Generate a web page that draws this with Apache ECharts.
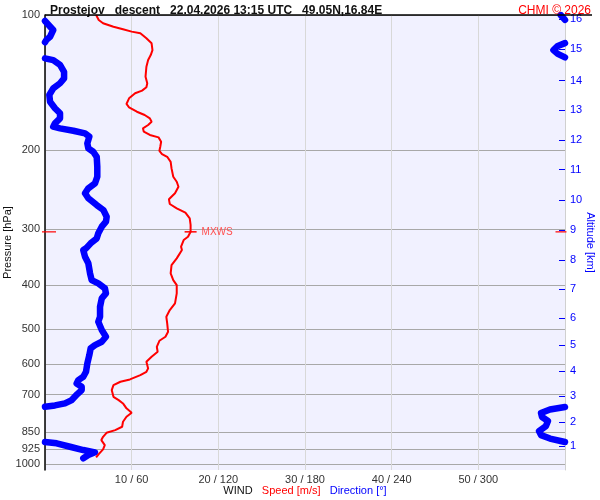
<!DOCTYPE html>
<html>
<head>
<meta charset="utf-8">
<script src="https://cdn.jsdelivr.net/npm/echarts@6/dist/echarts.min.js"></script>
<style>
  html, body { margin: 0; padding: 0; background: #ffffff; }
  #main { width: 600px; height: 500px; }
</style>
</head>
<body>
<div id="main"></div>
<script>
// wind speed profile (pressure hPa / speed m/s)
const speedPres = [100, 102.6, 104.3, 106.2, 107.6, 108.9, 109.8, 112.7, 115.6, 119.7, 122.8, 126.0, 130.4, 137.2, 141.9, 144.9, 147.4, 149.4, 153.3, 157.8, 160.5, 164.2, 167.0, 169.9, 172.9, 175.8, 178.8, 181.9, 185.0, 187.3, 191.5, 196.5, 200.6, 204.0, 206.9, 212.3, 219.6, 229.2, 235.1, 241.2, 249.5, 257.3, 263.6, 269.5, 275.6, 283.6, 293.5, 303.8, 311.8, 317.1, 328.1, 333.8, 348.3, 360.5, 376.2, 389.3, 399.4, 416.8, 438.7, 454.0, 469.9, 486.1, 507.5, 520.7, 531.5, 548.1, 562.3, 576.8, 591.9, 612.3, 623.0, 633.7, 647.9, 655.8, 667.1, 684.4, 708.3, 720.4, 732.8, 751.6, 768.6, 784.6, 805.0, 826.0, 840.2, 851.9, 869.6, 884.4, 907.4, 927.6, 950.2, 966.5];
const speedVals = [5.9, 6.2, 6.7, 7.9, 9.0, 10.0, 11.0, 11.7, 12.3, 12.4, 12.2, 11.9, 11.7, 11.6, 11.8, 11.7, 11.2, 10.4, 9.7, 9.4, 9.7, 10.6, 11.5, 12.1, 12.3, 11.9, 11.3, 11.4, 12.1, 13.1, 13.4, 13.3, 13.2, 13.5, 14.1, 14.5, 14.6, 14.8, 15.2, 15.4, 15.0, 14.3, 14.4, 15.2, 16.2, 16.7, 16.8, 16.8, 16.5, 16.0, 15.7, 15.8, 15.2, 14.6, 14.5, 14.8, 15.2, 15.2, 15.0, 14.4, 14.0, 14.1, 14.2, 13.9, 13.2, 12.9, 13.0, 12.3, 11.7, 11.9, 11.7, 11.0, 9.8, 8.7, 7.9, 7.7, 7.9, 8.5, 9.0, 9.4, 10.0, 9.4, 9.0, 8.9, 8.1, 7.1, 6.7, 6.5, 6.9, 6.7, 6.2, 5.9];

// wind direction profile, null = break where it wraps 360 -> 0
const dirPres = [100, 102.5, null,
  103.1, 103.5, 108.0, 111.8, 113.6, 115.0, null,
  115.5, 117.2, 119.7, 122.1, 124.3, null,
  124.9, 126.0, 129.2, 133.8, 138.4, 141.9, 145.6, 150.7, 156.0, 161.3, 165.5, 169.9, 174.3, 177.3, 178.8, 181.0, 183.5, 186.6, 193.1, 198.1, 201.6, 206.9, 217.7, 229.2, 237.1, 243.2, 249.5, 256.0, 265.0, 271.8, 281.3, 288.6, 296.1, 306.3, 314.4, 322.5, 330.9, 333.8, 345.5, 357.3, 376.2, 389.3, 396.0, 406.3, 416.8, 427.6, 446.4, 469.9, 482.2, 503.0, 520.7, 534.2, 543.3, 552.6, 571.9, 596.9, 623.0, 639.3, 650.2, 661.4, 672.9, 684.4, 698.6, 720.4, 732.8, 740.4, 745.7, null,
  746.5, 756.2, 769.9, 785.8, 802.0, 823.0, 844.3, 862.1, 877.6, 893.3, null,
  893.3, 899.3, 915.1, 930.8, 941.8, 955.0, 971.2];
const dirVals = [357, 360, null,
  0, 1, 5.7, 3.5, 1, 0, null,
  360, 355, 352, 355, 360, null,
  0, 5.7, 10.4, 13.2, 13.2, 10.4, 5.7, 3.0, 3.5, 6.9, 10.4, 10.4, 6.9, 5.7, 10.4, 19.6, 27.7, 30.7, 29.3, 30.0, 33.4, 35.8, 36.2, 36.2, 34.6, 30.0, 27.7, 30.0, 35.8, 40.4, 42.7, 42.2, 39.3, 36.9, 35.8, 31.6, 28.4, 26.5, 27.7, 30.0, 31.2, 32.3, 36.9, 41.5, 42.2, 39.3, 38.1, 38.1, 36.9, 39.3, 42.2, 39.3, 34.6, 31.6, 30.7, 29.3, 28.4, 26.5, 23.1, 21.9, 25.4, 25.4, 22.4, 18.5, 13.8, 6.9, 0, null,
  360, 349.6, 343.4, 344.1, 348.2, 346.8, 342, 343.4, 349.6, 360, null,
  0, 8.1, 17.3, 26.5, 34.6, 30.0, 26.5];

// max wind
const mxwsSpeed = 16.8;
const mxwsPres = 304;

// axes
const presTicks = [100, 200, 300, 400, 500, 600, 700, 850, 925, 1000];
const speedTicks = [10, 20, 30, 40, 50];
const altKm = [1, 2, 3, 4, 5, 6, 7, 8, 9, 10, 11, 12, 13, 14, 15, 16];
const altPres = [912, 806, 706, 621, 543, 473, 408, 351, 301, 258, 221, 190, 163, 140, 119, 102];

let myChart = echarts.init(document.getElementById('main'));

const FONT = 'Liberation Sans';
const RED = '#ff0000';
const BLUE = '#0000ff';

function altLabel(v) {
    if (v < 10) v = Math.pow(10, v);
    let best = 0;
    for (let i = 1; i < altPres.length; i++) {
        if (Math.abs(altPres[i] - v) < Math.abs(altPres[best] - v)) best = i;
    }
    return String(altKm[best]);
}

function presLabel(v) {
    if (v < 10) v = Math.pow(10, v);
    return String(Math.round(v));
}

let option = {
    animation: false,
    backgroundColor: '#ffffff',
    textStyle: { fontFamily: FONT },
    title: [
        {
            text: 'Prostejov   descent   22.04.2026 13:15 UTC   49.05N,16.84E',
            left: 45, top: 0,
            textStyle: { fontSize: 12, fontWeight: 'bold', color: '#111', fontFamily: FONT }
        },
        {
            text: 'CHMI © 2026',
            right: 4, top: 0,
            textStyle: { fontSize: 12, fontWeight: 'normal', color: RED, fontFamily: FONT }
        }
    ],
    grid: {
        left: 45, right: 35, top: 15, bottom: 30,
        outerBoundsMode: 'none',
        containLabel: false,
        show: true, backgroundColor: '#f1f1ff', borderWidth: 0
    },
    graphic: [
        { type: 'line', shape: { x1: 45, y1: 15, x2: 592, y2: 15 }, style: { stroke: '#000', lineWidth: 1.5 }, z: 10 }
    ],
    xAxis: [
        {
            type: 'value', min: 0, max: 60, interval: 10,
            name: '{w|WIND}   {s|Speed [m/s]}   {d|Direction [°]}',
            nameLocation: 'middle', nameGap: 15, nameMoveOverlap: false,
            nameTextStyle: {
                fontSize: 11,
                rich: {
                    w: { color: '#111', fontSize: 11, fontFamily: FONT },
                    s: { color: RED, fontSize: 11, fontFamily: FONT },
                    d: { color: BLUE, fontSize: 11, fontFamily: FONT }
                }
            },
            axisLine: { show: false, onZero: false },
            axisTick: { show: false },
            axisLabel: {
                color: '#333', fontSize: 11, margin: 4,
                formatter: function (v) { return speedTicks.indexOf(v) >= 0 ? v + ' / ' + (v * 6) : ''; }
            },
            splitLine: { show: true, lineStyle: { color: '#d8d8d8', width: 1 } }
        },
        {
            type: 'value', min: 0, max: 360, show: false
        }
    ],
    yAxis: [
        {
            type: 'log', logBase: 10, min: 100, max: 1031, inverse: true,
            name: 'Pressure [hPa]', nameLocation: 'middle', nameGap: 32, nameMoveOverlap: false,
            nameTextStyle: { color: '#111', fontSize: 11 },
            axisLine: { show: true, onZero: false, lineStyle: { color: '#000', width: 1.5 } },
            axisTick: { show: false, customValues: presTicks },
            axisLabel: { customValues: presTicks, color: '#333', fontSize: 11, margin: 5, formatter: presLabel },
            splitLine: { show: true, lineStyle: { color: '#a8a8a8', width: 1 } }
        },
        {
            type: 'log', logBase: 10, min: 100, max: 1031, inverse: true, position: 'right',
            name: 'Altitude [km]', nameLocation: 'middle', nameGap: 20, nameRotate: -90, nameMoveOverlap: false,
            nameTextStyle: { color: BLUE, fontSize: 11 },
            axisLine: { show: true, onZero: false, lineStyle: { color: '#d0d0d0', width: 1 } },
            axisTick: { show: true, inside: true, length: 6, customValues: altPres, lineStyle: { color: BLUE, width: 1 } },
            axisLabel: { customValues: altPres, color: BLUE, fontSize: 11, margin: 5, formatter: altLabel },
            splitLine: { show: false }
        }
    ],
    series: [
        {
            name: 'Direction',
            type: 'line',
            xAxisIndex: 1, yAxisIndex: 0,
            showSymbol: false,
            connectNulls: false,
            lineStyle: { color: BLUE, width: 6.5, cap: 'round', join: 'round' },
            data: dirPres.map((p, i) => dirVals[i] === null ? ['-', '-'] : [dirVals[i], p]),
            z: 2
        },
        {
            name: 'Speed',
            type: 'line',
            xAxisIndex: 0, yAxisIndex: 0,
            showSymbol: false,
            lineStyle: { color: RED, width: 2 },
            data: speedPres.map((p, i) => [speedVals[i], p]),
            markPoint: {
                symbol: 'rect',
                symbolSize: [12, 1.5],
                itemStyle: { color: RED },
                label: { show: true, position: 'right', distance: 5, formatter: 'MXWS', color: '#ff5050', fontSize: 10, fontFamily: FONT },
                data: [{ coord: [mxwsSpeed, mxwsPres] }]
            },
            z: 3
        },
        {
            name: 'MXWS level',
            type: 'scatter',
            xAxisIndex: 0, yAxisIndex: 0,
            symbol: 'rect',
            itemStyle: { color: RED },
            clip: false,
            data: [
                { value: [0, mxwsPres], symbolSize: [14, 1.5], symbolOffset: [4, 0] },
                { value: [60, mxwsPres], symbolSize: [11, 1.5], symbolOffset: [-4, 0] }
            ],
            z: 4
        }
    ]
};
myChart.setOption(option);
</script>
</body>
</html>
